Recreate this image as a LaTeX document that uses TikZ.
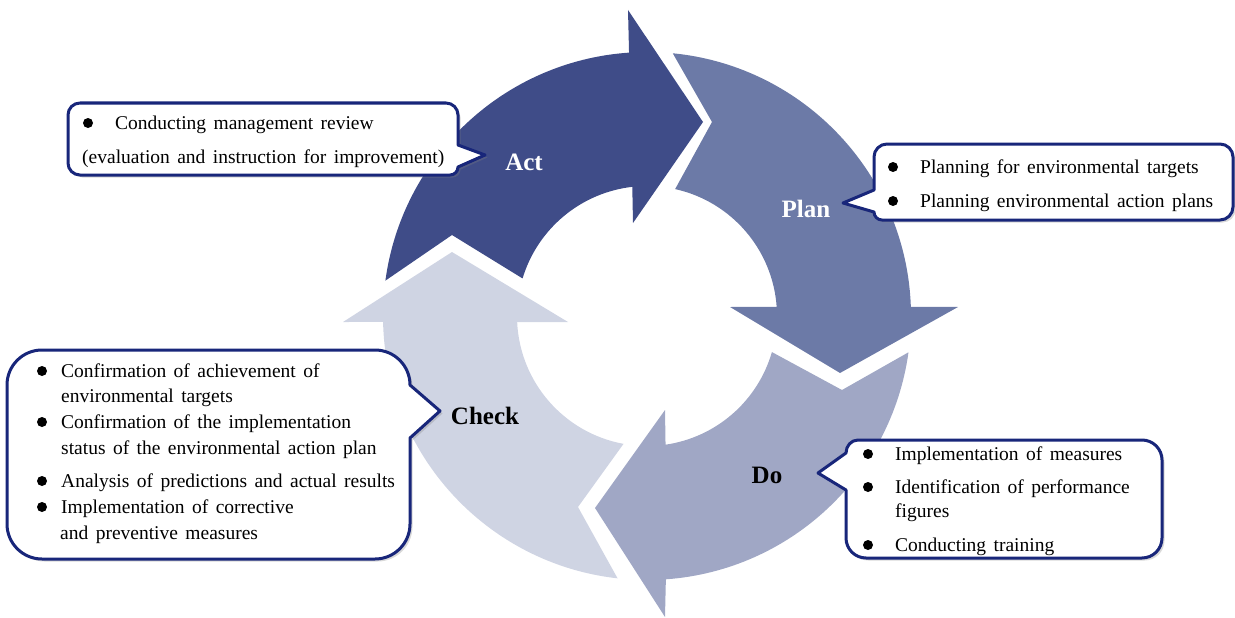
\documentclass[tikz,border=0pt]{standalone}
\usepackage{fontspec}
\setmainfont{Liberation Serif}
\usetikzlibrary{shadows}
\definecolor{actc}{RGB}{63,76,136}
\definecolor{planc}{RGB}{108,122,167}
\definecolor{doc}{RGB}{160,167,197}
\definecolor{checkc}{RGB}{207,212,227}
\definecolor{navy}{RGB}{24,38,122}
\newcommand{\bodyfnt}{\fontsize{19.5}{22}\selectfont\spaceskip=0.38em plus 0.1em minus 0.05em\relax}
\begin{document}
\begin{tikzpicture}[x=1pt,y=1pt,
  callout/.style={draw=navy, line width=3pt, fill=white, line join=round,
    drop shadow={shadow xshift=2.5pt, shadow yshift=-2.5pt, opacity=0.3}},
  bodytext/.style={anchor=base west, inner sep=0pt, font=\bodyfnt},
  bul/.style={fill=black},
  lbl/.style={anchor=base, inner sep=0pt, font=\fontsize{25}{28}\selectfont\bfseries}]
\useasboundingbox (0,0) rectangle (1235,-618);
\coordinate (C) at (647,-316);

% Act arrow
\fill[actc] ([shift={(172.3:264)}]C) arc[start angle=172.3, end angle=93.9, radius=264]
  -- (628,-10) -- (703,-122) -- (633,-223)
  -- ([shift={(96.5:130)}]C) arc[start angle=96.5, end angle=163.2, radius=130]
  -- (452,-235) -- cycle;
% Plan arrow
\fill[planc] ([shift={(84.4:264)}]C) arc[start angle=84.4, end angle=2.0, radius=264]
  -- (958,-307) -- (840,-373) -- (730,-307)
  -- ([shift={(4.0:130)}]C) arc[start angle=4.0, end angle=77.5, radius=130]
  -- (712,-122) -- cycle;
% Do arrow
\fill[doc] ([shift={(-7.9:264)}]C) arc[start angle=-7.9, end angle=-85.9, radius=264]
  -- (665,-617) -- (595,-508) -- (665,-410)
  -- ([shift={(-81.8:130)}]C) arc[start angle=-81.8, end angle=-16.1, radius=130]
  -- (842,-390) -- cycle;
% Check arrow
\fill[checkc] ([shift={(263.6:264)}]C) arc[start angle=263.6, end angle=181.3, radius=264]
  -- (343,-322) -- (452,-252) -- (568,-322)
  -- ([shift={(182.7:130)}]C) arc[start angle=182.7, end angle=259.6, radius=130]
  -- (578,-507) -- cycle;

% Callouts
\draw[callout] (80,-103) -- (446,-103) arc[start angle=90,end angle=0,radius=12]
  -- (458,-145) -- (485,-155) -- (458,-167) to[out=-90,in=0] (450,-175)
  -- (80,-175) arc[start angle=270,end angle=180,radius=12]
  -- (68,-115) arc[start angle=180,end angle=90,radius=12] -- cycle;
\draw[callout] (887,-144) -- (1220,-144) arc[start angle=90,end angle=0,radius=13]
  -- (1233,-207) arc[start angle=0,end angle=-90,radius=13]
  -- (882,-220) to[out=180,in=-90] (874,-212) -- (843,-203) -- (874,-190)
  -- (874,-157) arc[start angle=180,end angle=90,radius=13] -- cycle;
\draw[callout] (866,-440) -- (1142,-440) arc[start angle=90,end angle=0,radius=20]
  -- (1162,-538) arc[start angle=0,end angle=-90,radius=20]
  -- (866,-558) arc[start angle=270,end angle=180,radius=20]
  -- (846,-490) -- (818,-473) -- (846,-453) to[out=90,in=180] (858,-440) -- cycle;
\draw[callout] (42,-350) -- (375,-350) arc[start angle=90,end angle=0,radius=35]
  -- (440,-411) -- (410,-438)
  -- (410,-524) arc[start angle=0,end angle=-90,radius=35]
  -- (42,-559) arc[start angle=270,end angle=180,radius=35]
  -- (7,-385) arc[start angle=180,end angle=90,radius=35] -- cycle;

% Act text
\fill[bul] (88,-123) circle[radius=5];
\node[bodytext] (a1) at (115,-129) {Conducting management review};
\node[bodytext] (a2) at (82,-163) {(evaluation and instruction for improvement)};
% Plan text
\fill[bul] (893,-167) circle[radius=5];
\fill[bul] (893,-201) circle[radius=5];
\node[bodytext] (p1) at (920,-173) {Planning for environmental targets};
\node[bodytext] (p2) at (920,-207) {Planning environmental action plans};
% Do text
\fill[bul] (868,-454) circle[radius=5];
\fill[bul] (868,-487) circle[radius=5];
\fill[bul] (868,-545) circle[radius=5];
\node[bodytext] (d1) at (895,-460) {Implementation of measures};
\node[bodytext] (d2) at (895,-493) {Identification of performance};
\node[bodytext] (d3) at (895,-517) {figures};
\node[bodytext] (d4) at (895,-551) {Conducting training};
% Check text
\fill[bul] (42,-371) circle[radius=5];
\fill[bul] (42,-422) circle[radius=5];
\fill[bul] (42,-481) circle[radius=5];
\fill[bul] (42,-507) circle[radius=5];
\node[bodytext] (c1) at (61,-377) {Confirmation of achievement of};
\node[bodytext] (c2) at (61,-402) {environmental targets};
\node[bodytext] (c3) at (61,-428) {Confirmation of the implementation};
\node[bodytext] (c4) at (61,-454) {status of the environmental action plan};
\node[bodytext] (c5) at (61,-487) {Analysis of predictions and actual results};
\node[bodytext] (c6) at (61,-513) {Implementation of corrective};
\node[bodytext] (c7) at (60,-539) {and preventive measures};

% Labels
\node[lbl, text=white] (actl) at (524,-170) {Act};
\node[lbl, text=white] (planl) at (806,-217) {Plan};
\node[lbl] (dol) at (767,-483) {Do};
\node[lbl] (checkl) at (485,-424) {Check};
\end{tikzpicture}
\end{document}
